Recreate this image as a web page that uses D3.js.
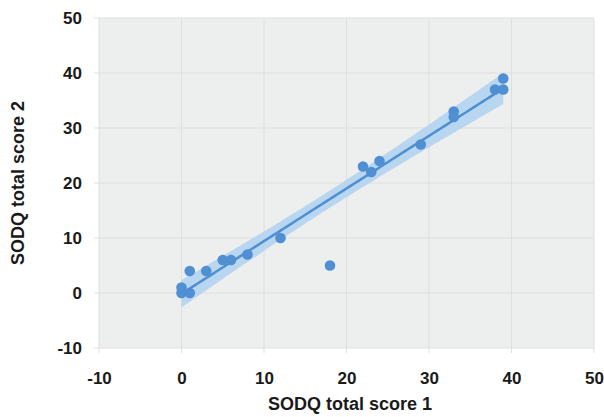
<!DOCTYPE html>
<html lang="en">
<head>
<meta charset="UTF-8" />
<title>SODQ total score 1 vs 2</title>
<script src="https://cdnjs.cloudflare.com/ajax/libs/d3/7.8.5/d3.min.js"></script>
<style>
    html, body { margin: 0; background: #fff; }
    text { font-family: "Liberation Sans", Arial, sans-serif; font-weight: bold; fill: #1a1a1a; }
</style>
</head>
<body>
<div id="chart"></div>
<script>
    // data
    const score1 = [0, 0, 1, 1, 3, 5, 6, 8, 12, 18, 22, 23, 24, 29, 33, 33, 38, 39, 39];
    const score2 = [0, 1, 0, 4, 4, 6, 6, 7, 10, 5, 23, 22, 24, 27, 33, 32, 37, 39, 37];
    const xTicks = [-10, 0, 10, 20, 30, 40, 50];
    const yTicks = [-10, 0, 10, 20, 30, 40, 50];

    const width = 604, height = 417;
    const margin = { top: 18, right: 10, bottom: 69, left: 99 };

    const svg = d3.select("#chart").append("svg")
        .attr("width", width)
        .attr("height", height);

    const x = d3.scaleLinear().domain([-10, 50]).range([margin.left, width - margin.right]);
    const y = d3.scaleLinear().domain([-10, 50]).range([height - margin.bottom, margin.top]);

    // plot background
    svg.append("rect")
        .attr("x", x(-10)).attr("y", y(50))
        .attr("width", x(50) - x(-10)).attr("height", y(-10) - y(50))
        .attr("fill", "#edeeee");

    // grid + ticks
    svg.append("g").selectAll("line").data(xTicks).join("line")
        .attr("x1", d => x(d)).attr("x2", d => x(d))
        .attr("y1", y(50)).attr("y2", y(-10) + 5)
        .attr("stroke", "#dedfdf").attr("stroke-width", 1);
    svg.append("g").selectAll("line").data(yTicks).join("line")
        .attr("x1", x(-10) - 5).attr("x2", x(50))
        .attr("y1", d => y(d)).attr("y2", d => y(d))
        .attr("stroke", "#dedfdf").attr("stroke-width", 1);

    // plain hyphen minus like the original
    const fmt = d => String(d);
    const xAxis = svg.append("g")
        .attr("transform", `translate(0,${y(-10)})`)
        .call(d3.axisBottom(x).tickValues(xTicks).tickFormat(fmt).tickSize(0).tickPadding(24));
    const yAxis = svg.append("g")
        .attr("transform", `translate(${x(-10)},0)`)
        .call(d3.axisLeft(y).tickValues(yTicks).tickFormat(fmt).tickSize(0).tickPadding(17));
    [xAxis, yAxis].forEach(a => {
        a.select(".domain").remove();
        a.selectAll("text").attr("font-size", 17).attr("font-family", null).attr("fill", "#1a1a1a");
    });

    // least squares fit with 95% confidence band
    const n = score1.length;
    const mx = d3.mean(score1), my = d3.mean(score2);
    const sxx = d3.sum(score1, v => (v - mx) ** 2);
    const sxy = d3.sum(score1.map((v, i) => (v - mx) * (score2[i] - my)));
    const slope = sxy / sxx, icpt = my - slope * mx;
    const s = Math.sqrt(d3.sum(score1.map((v, i) => (score2[i] - icpt - slope * v) ** 2)) / (n - 2));
    const tcrit = 2.11;
    const fitX = d3.range(d3.min(score1), d3.max(score1) + 0.01, 0.5);
    const band = fitX.map(v => {
        const f = icpt + slope * v;
        const se = s * Math.sqrt(1 / n + (v - mx) ** 2 / sxx);
        return { x: v, f: f, lo: f - tcrit * se, hi: f + tcrit * se };
    });

    svg.append("path").datum(band)
        .attr("fill", "#b9d6f1")
        .attr("d", d3.area().x(d => x(d.x)).y0(d => y(d.lo)).y1(d => y(d.hi)));

    svg.append("path").datum(band)
        .attr("fill", "none").attr("stroke", "#4d8fd1").attr("stroke-width", 2.5)
        .attr("d", d3.line().x(d => x(d.x)).y(d => y(d.f)));

    svg.append("g").selectAll("circle").data(score1).join("circle")
        .attr("cx", d => x(d))
        .attr("cy", (d, i) => y(score2[i]))
        .attr("r", 5.3)
        .attr("fill", "#4f8fd2");

    // axis titles
    svg.append("text")
        .attr("x", 350).attr("y", 410)
        .attr("text-anchor", "middle").attr("font-size", 18)
        .text("SODQ total score 1");
    svg.append("text")
        .attr("transform", `translate(24,${(y(50) + y(-10)) / 2}) rotate(-90)`)
        .attr("text-anchor", "middle").attr("font-size", 18)
        .text("SODQ total score 2");
</script>
</body>
</html>
